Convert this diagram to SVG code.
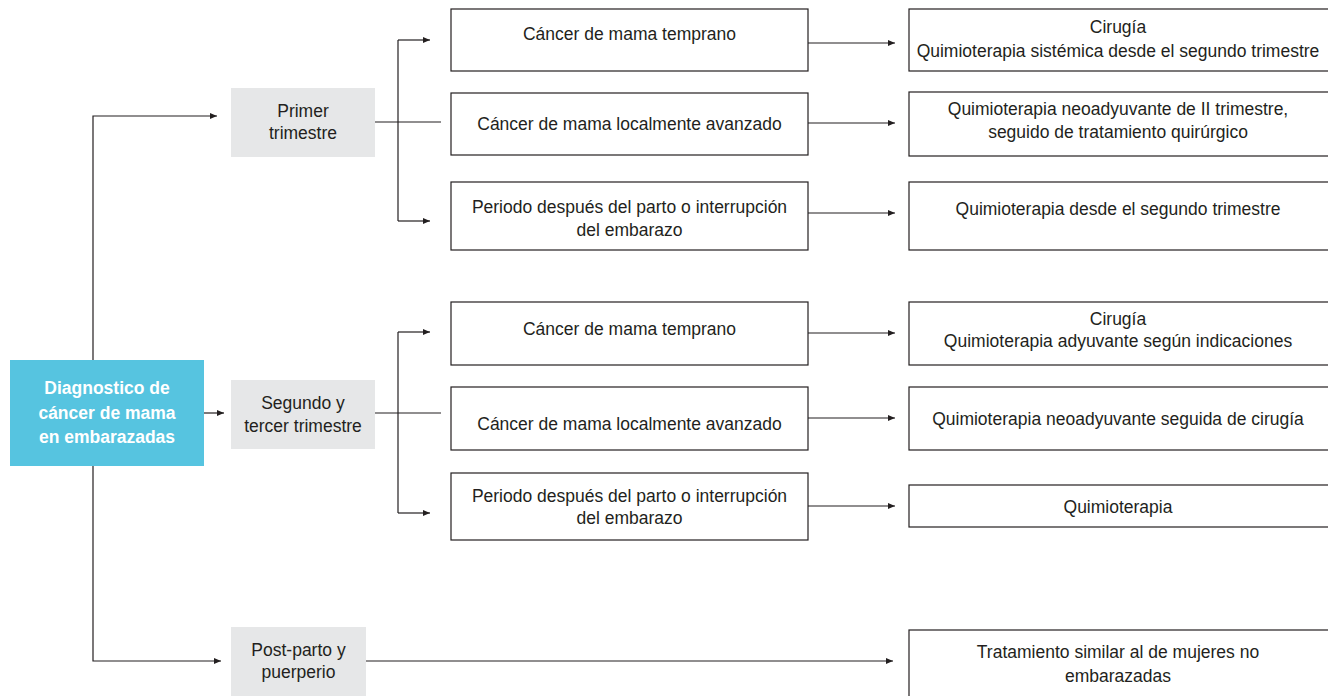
<svg xmlns="http://www.w3.org/2000/svg" width="1328" height="696" viewBox="0 0 1328 696">
<defs>
<style>
.t{font-family:"Liberation Sans",Arial,sans-serif;font-size:17.5px;fill:#231f20;text-anchor:middle}
.tb{font-family:"Liberation Sans",Arial,sans-serif;font-size:17.5px;font-weight:bold;fill:#ffffff;text-anchor:middle}
.box{fill:#ffffff;stroke:#231f20;stroke-width:1.2}
.gray{fill:#e6e7e8}
.blue{fill:#56c4e0}
.c{fill:none;stroke:#231f20;stroke-width:1.2}
</style>
<marker id="ah" markerUnits="userSpaceOnUse" markerWidth="8" markerHeight="6" refX="7" refY="3" orient="auto">
<path d="M0,0 L7,3 L0,6 z" fill="#231f20"/>
</marker>
</defs>
<rect width="1328" height="696" fill="#ffffff"/>

<g id="connectors">
<path class="c" d="M93,360 V116 H217" marker-end="url(#ah)"/>
<path class="c" d="M204,413 H224" marker-end="url(#ah)"/>
<path class="c" d="M93,466 V661 H221" marker-end="url(#ah)"/>
<path class="c" d="M375,122 H441"/>
<path class="c" d="M398,40 V221"/>
<path class="c" d="M398,40 H430" marker-end="url(#ah)"/>
<path class="c" d="M398,221 H430" marker-end="url(#ah)"/>
<path class="c" d="M808,43 H895" marker-end="url(#ah)"/>
<path class="c" d="M808,123 H895" marker-end="url(#ah)"/>
<path class="c" d="M808,213 H895" marker-end="url(#ah)"/>
<path class="c" d="M375,413 H441"/>
<path class="c" d="M398,332 V513"/>
<path class="c" d="M398,332 H430" marker-end="url(#ah)"/>
<path class="c" d="M398,513 H430" marker-end="url(#ah)"/>
<path class="c" d="M808,333 H895" marker-end="url(#ah)"/>
<path class="c" d="M808,418 H895" marker-end="url(#ah)"/>
<path class="c" d="M808,506 H895" marker-end="url(#ah)"/>
<path class="c" d="M366,661 H893" marker-end="url(#ah)"/>
</g>

<g id="root">
<rect class="blue" x="10" y="360" width="194" height="106"/>
<text class="tb" x="107" y="394">Diagnostico de</text>
<text class="tb" x="107" y="419">cáncer de mama</text>
<text class="tb" x="107" y="443">en embarazadas</text>
</g>

<g id="primer">
<rect class="gray" x="231" y="88" width="144" height="69"/>
<text class="t" x="303" y="117">Primer</text>
<text class="t" x="303" y="139">trimestre</text>
</g>
<g id="segundo">
<rect class="gray" x="231" y="380" width="144" height="69"/>
<text class="t" x="303" y="409">Segundo y</text>
<text class="t" x="303" y="432">tercer trimestre</text>
</g>
<g id="postparto">
<rect class="gray" x="231" y="627" width="135" height="69"/>
<text class="t" x="298.5" y="656">Post-parto y</text>
<text class="t" x="298.5" y="678">puerperio</text>
</g>

<g id="m1">
<rect class="box" x="451" y="9" width="357" height="62"/>
<text class="t" x="629.5" y="40">Cáncer de mama temprano</text>
</g>
<g id="m2">
<rect class="box" x="451" y="93" width="357" height="62"/>
<text class="t" x="629.5" y="130">Cáncer de mama localmente avanzado</text>
</g>
<g id="m3">
<rect class="box" x="451" y="182" width="357" height="68"/>
<text class="t" x="629.5" y="213">Periodo después del parto o interrupción</text>
<text class="t" x="629.5" y="236">del embarazo</text>
</g>
<g id="m4">
<rect class="box" x="451" y="302" width="357" height="63"/>
<text class="t" x="629.5" y="335">Cáncer de mama temprano</text>
</g>
<g id="m5">
<rect class="box" x="451" y="387" width="357" height="63"/>
<text class="t" x="629.5" y="430">Cáncer de mama localmente avanzado</text>
</g>
<g id="m6">
<rect class="box" x="451" y="473" width="357" height="67"/>
<text class="t" x="629.5" y="502">Periodo después del parto o interrupción</text>
<text class="t" x="629.5" y="524">del embarazo</text>
</g>

<g id="r1">
<rect class="box" x="909" y="9" width="430" height="62"/>
<text class="t" x="1118" y="33">Cirugía</text>
<text class="t" x="1118" y="57">Quimioterapia sistémica desde el segundo trimestre</text>
</g>
<g id="r2">
<rect class="box" x="909" y="92" width="430" height="64"/>
<text class="t" x="1118" y="115">Quimioterapia neoadyuvante de II trimestre,</text>
<text class="t" x="1118" y="138">seguido de tratamiento quirúrgico</text>
</g>
<g id="r3">
<rect class="box" x="909" y="182" width="430" height="68"/>
<text class="t" x="1118" y="215">Quimioterapia desde el segundo trimestre</text>
</g>
<g id="r4">
<rect class="box" x="909" y="302" width="430" height="63"/>
<text class="t" x="1118" y="325">Cirugía</text>
<text class="t" x="1118" y="347">Quimioterapia adyuvante según indicaciones</text>
</g>
<g id="r5">
<rect class="box" x="909" y="387" width="430" height="63"/>
<text class="t" x="1118" y="425">Quimioterapia neoadyuvante seguida de cirugía</text>
</g>
<g id="r6">
<rect class="box" x="909" y="485" width="430" height="42"/>
<text class="t" x="1118" y="513">Quimioterapia</text>
</g>
<g id="r7">
<rect class="box" x="909" y="630" width="430" height="80"/>
<text class="t" x="1118" y="658">Tratamiento similar al de mujeres no</text>
<text class="t" x="1118" y="682">embarazadas</text>
</g>
</svg>
